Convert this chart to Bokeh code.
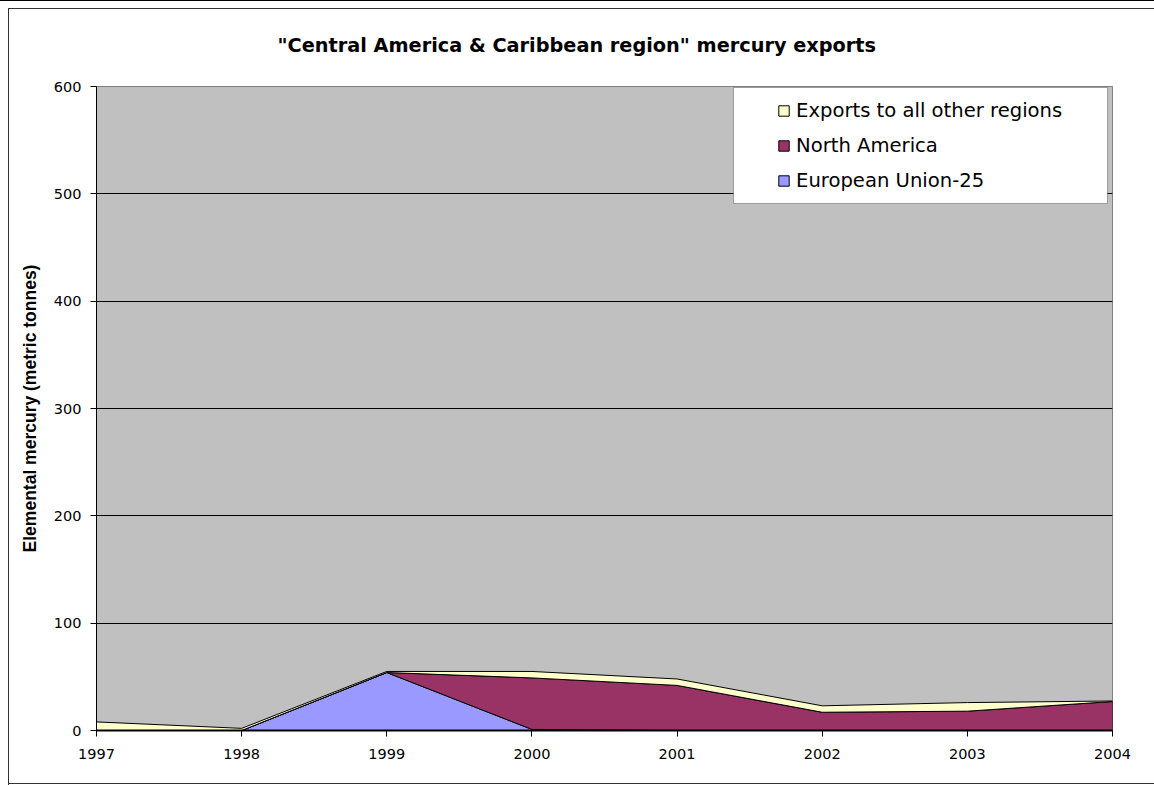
import numpy as np
from bokeh.plotting import figure
from bokeh.models import (Range1d, FixedTicker, Legend, LegendItem, BoxAnnotation)
from bokeh.embed import file_html
from bokeh.resources import INLINE

# ---- data ----
years = [1997, 1998, 1999, 2000, 2001, 2002, 2003, 2004]
eu25 = [0, 0, 54, 1, 0, 0, 0, 0]
north_america = [0, 0, 0, 48, 42, 17, 18, 27]
other_regions = [8, 2, 1, 6, 6, 6, 8, 0.5]
y_ticks = [0, 100, 200, 300, 400, 500, 600]
title_text = '"Central America & Caribbean region" mercury exports'
y_label = "Elemental mercury (metric tonnes)"
series_names = ["European Union-25", "North America", "Exports to all other regions"]
series_colors = ["#9999FF", "#993366", "#FFFFCC"]

W, H = 1154, 785
p = figure(width=W, height=H, output_backend="svg", toolbar_location=None,
           x_range=Range1d(1997, 2004), y_range=Range1d(0, 600),
           min_border_left=96, min_border_right=42, min_border_top=86, min_border_bottom=55)
p.background_fill_color = "#C0C0C0"
p.border_fill_alpha = 0
p.outline_line_color = "#808080"
# chart-area frame lines (left, top, bottom) and page top rule, via CSS background
p.styles = {
    "background": ("linear-gradient(#333,#333) 8px 8px / 1px 777px no-repeat, "
                   "linear-gradient(#333,#333) 8px 8px / 1146px 1px no-repeat, "
                   "linear-gradient(#333,#333) 8px 783px / 1146px 1px no-repeat, "
                   "linear-gradient(#000,#000) 0 0 / 100% 1px no-repeat, white"),
}

p.title.text = title_text
p.title.align = "left"
p.title.offset = 181
p.title.standoff = 59
p.title.text_font = "DejaVu Sans"
p.title.text_font_size = "19.3px"
p.title.text_font_style = "bold"
p.title.text_color = "black"

# stacked areas drawn as patches (fill + black outline)
bottom = np.zeros(len(years))
renderers = []
for vals, color in zip([eu25, north_america, other_regions], series_colors):
    top = bottom + np.array(vals, dtype=float)
    xs = list(years) + list(years[::-1])
    ys = list(top) + list(bottom[::-1])
    r = p.patch(xs, ys, fill_color=color, line_color="black", line_width=1)
    renderers.append(r)
    bottom = top

# axes
yax = p.yaxis[0]
yax.ticker = FixedTicker(ticks=y_ticks)
yax.minor_tick_line_color = None
yax.major_tick_in = 0
yax.major_tick_out = 6
yax.axis_line_color = "black"
yax.major_tick_line_color = "black"
yax.major_label_text_font = "DejaVu Sans"
yax.major_label_text_font_size = "14.5px"
yax.major_label_text_color = "black"
yax.major_label_standoff = 9
yax.axis_label = y_label
yax.axis_label_text_font = "Liberation Sans"
yax.axis_label_text_font_size = "17.5px"
yax.axis_label_text_font_style = "bold"
yax.axis_label_text_color = "black"
yax.axis_label_standoff = 11

xax = p.xaxis[0]
xax.ticker = FixedTicker(ticks=years)
xax.minor_tick_line_color = None
xax.major_tick_in = 0
xax.major_tick_out = 6
xax.axis_line_color = "black"
xax.axis_line_width = 2
xax.major_tick_line_color = "black"
xax.major_label_text_font = "DejaVu Sans"
xax.major_label_text_font_size = "14.5px"
xax.major_label_text_color = "black"
xax.major_label_standoff = 12

p.xgrid.grid_line_color = None
p.ygrid.ticker = FixedTicker(ticks=y_ticks[1:-1])
p.ygrid.grid_line_color = "black"
p.ygrid.grid_line_width = 1

# legend box
box = BoxAnnotation(left=733, right=1107, top=87, bottom=203,
                    left_units="canvas", right_units="canvas",
                    top_units="canvas", bottom_units="canvas",
                    fill_color="white", fill_alpha=1.0,
                    line_color="black", line_width=1)
p.add_layout(box)

items = [LegendItem(label=series_names[i], renderers=[renderers[i]]) for i in [2, 1, 0]]
legend = Legend(items=items, location=(681, 538), padding=0, spacing=11,
                glyph_width=13, glyph_height=13, label_height=24, label_standoff=6,
                label_text_font="DejaVu Sans", label_text_font_size="19.6px",
                label_text_color="black",
                border_line_color=None, background_fill_alpha=0)
p.add_layout(legend)

open("out.html", "w").write(file_html(p, INLINE))
